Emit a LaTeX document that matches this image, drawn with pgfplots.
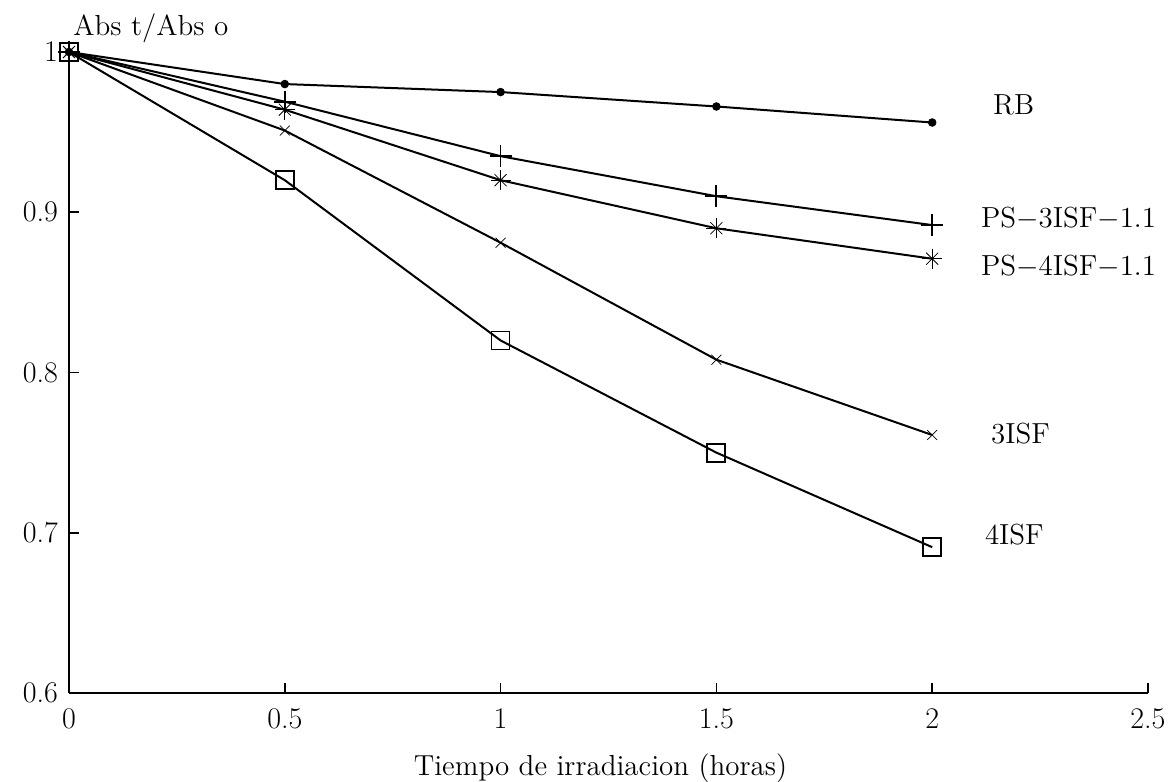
\documentclass[border=0pt]{standalone}
\usepackage{pgfplots}
\pgfplotsset{compat=1.18}
\pgfdeclareplotmark{plusx}{%
  \pgfpathmoveto{\pgfqpoint{0pt}{\pgfplotmarksize}}\pgfpathlineto{\pgfqpoint{0pt}{-\pgfplotmarksize}}%
  \pgfpathmoveto{\pgfqpoint{\pgfplotmarksize}{0pt}}\pgfpathlineto{\pgfqpoint{-\pgfplotmarksize}{0pt}}%
  \pgfusepathqstroke
  \pgfsetlinewidth{0.4pt}%
  \pgfpathmoveto{\pgfqpoint{.6\pgfplotmarksize}{.6\pgfplotmarksize}}\pgfpathlineto{\pgfqpoint{-.6\pgfplotmarksize}{-.6\pgfplotmarksize}}%
  \pgfpathmoveto{\pgfqpoint{.6\pgfplotmarksize}{-.6\pgfplotmarksize}}\pgfpathlineto{\pgfqpoint{-.6\pgfplotmarksize}{.6\pgfplotmarksize}}%
  \pgfusepathqstroke}
\begin{document}
\begin{tikzpicture}
\useasboundingbox (-34.5pt,-44.5pt) rectangle (552.5pt,346.5pt);
\begin{axis}[
  name=ax,
  at={(0,0)}, anchor=south west,
  scale only axis, width=539.5pt, height=320.5pt,
  xmin=0, xmax=2.5, ymin=0.6, ymax=1.0,
  axis lines=left, axis line style={-, line width=0.8pt},
  tick align=inside, major tick length=5pt,
  tick style={line width=0.8pt, black},
  xtick={0,0.5,1,1.5,2,2.5}, xticklabels={0,0.5,1,1.5,2,2.5},
  ytick={0.6,0.7,0.8,0.9,1.0}, yticklabels={0.6,0.7,0.8,0.9,1},
  tick label style={font=\fontsize{15}{17}\selectfont},
  xticklabel style={yshift=-4.5pt},
  yticklabel style={xshift=-2pt},
  clip=false,
  every axis plot/.append style={black, line width=1pt},
]
\addplot[mark=*, mark size=1.6pt] coordinates {(0,1) (0.5,0.980) (1,0.975) (1.5,0.966) (2,0.956)};
\addplot[mark=+, mark size=5.5pt, mark options={line width=0.9pt}] coordinates {(0,1) (0.5,0.969) (1,0.935) (1.5,0.910) (2,0.892)};
\addplot[mark=plusx, mark size=5pt, mark options={line width=0.9pt}] coordinates {(0,1) (0.5,0.964) (1,0.920) (1.5,0.890) (2,0.871)};
\addplot[mark=x, mark size=3.5pt, mark options={line width=0.35pt}] coordinates {(0,1) (0.5,0.951) (1,0.881) (1.5,0.808) (2,0.761)};
\addplot[mark=square, mark size=4.5pt, mark options={line width=0.9pt}] coordinates {(0,1) (0.5,0.920) (1,0.820) (1.5,0.750) (2,0.691)};
\node[anchor=west, font=\fontsize{14.5}{16}\selectfont] at (axis cs:2.125,0.967) {RB};
\node[anchor=west, font=\fontsize{14.5}{16}\selectfont] at (axis cs:2.097,0.896) {PS$-$3ISF$-$1.1};
\node[anchor=west, font=\fontsize{14.5}{16}\selectfont] at (axis cs:2.097,0.866) {PS$-$4ISF$-$1.1};
\node[anchor=west, font=\fontsize{14.5}{16}\selectfont] at (axis cs:2.120,0.762) {3ISF};
\node[anchor=west, font=\fontsize{14.5}{16}\selectfont] at (axis cs:2.106,0.699) {4ISF};
\node[anchor=base, font=\fontsize{14.5}{16}\selectfont, yshift=-41.5pt, xshift=-4pt] at (rel axis cs:0.5,0) {Tiempo de irradiacion (horas)};
\end{axis}
\node[anchor=base west, inner sep=0pt, font=\fontsize{14.5}{16}\selectfont] at ([xshift=2pt,yshift=8.5pt]ax.north west) {Abs t/Abs o};
\end{tikzpicture}
\end{document}
